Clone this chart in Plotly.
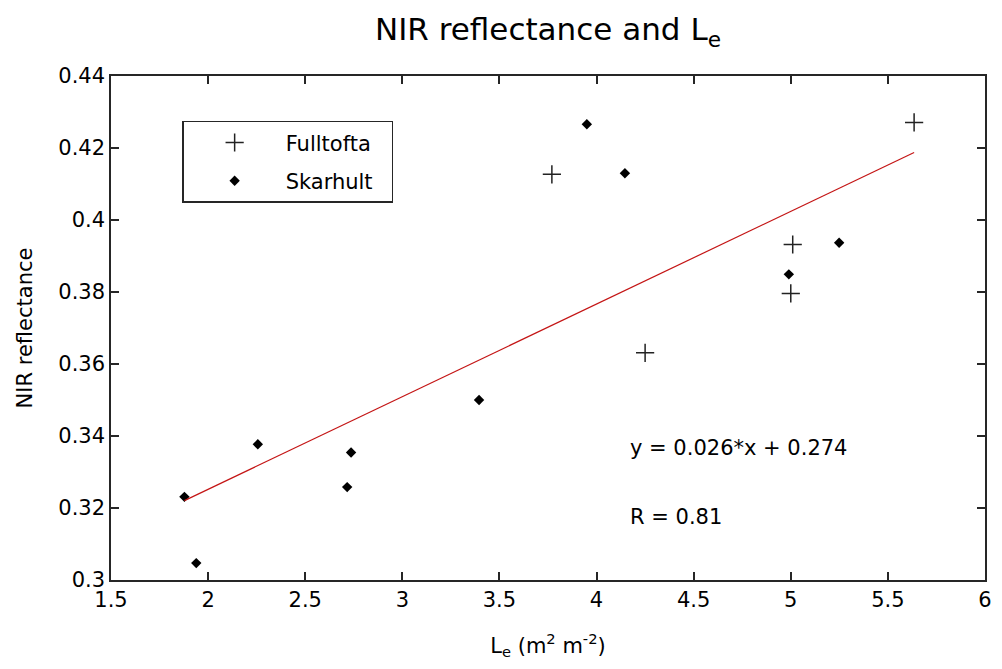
import numpy as np
import plotly.graph_objects as go

# ---- data ----
fulltofta_x = [3.77, 4.25, 5.01, 5.00, 5.635]
fulltofta_y = [0.4127, 0.3631, 0.3932, 0.3796, 0.4271]

skarhult_x = [1.878, 1.939, 2.256, 2.716, 2.736, 3.395, 3.95, 4.146, 4.99, 5.249]
skarhult_y = [0.3231, 0.3047, 0.3377, 0.3258, 0.3354, 0.350, 0.4266, 0.4130, 0.3849, 0.3937]

x_tick_vals = [1.5, 2, 2.5, 3, 3.5, 4, 4.5, 5, 5.5, 6]
x_tick_text = ["1.5", "2", "2.5", "3", "3.5", "4", "4.5", "5", "5.5", "6"]
y_tick_vals = [0.30, 0.32, 0.34, 0.36, 0.38, 0.40, 0.42, 0.44]
y_tick_text = ["0.3", "0.32", "0.34", "0.36", "0.38", "0.4", "0.42", "0.44"]

# linear fit over all points
all_x = np.array(fulltofta_x + skarhult_x)
all_y = np.array(fulltofta_y + skarhult_y)
slope, intercept = np.polyfit(all_x, all_y, 1)
r_value = np.corrcoef(all_x, all_y)[0, 1]
fit_x = np.array([all_x.min(), all_x.max()])
fit_y = slope * fit_x + intercept

FONT = "DejaVu Sans"
TXT = 21
AXC = "#262626"
PAD = "\u00a0\u00a0"

fig = go.Figure()
fig.add_trace(go.Scatter(
    x=fulltofta_x, y=fulltofta_y, mode="markers", name="Fulltofta" + PAD,
    legendgroup="a",
    marker=dict(symbol="cross-thin-open", size=13, color="#222222",
                line=dict(width=1.5, color="#222222")),
))
fig.add_trace(go.Scatter(
    x=skarhult_x, y=skarhult_y, mode="markers", name="Skarhult" + PAD,
    legendgroup="b",
    marker=dict(symbol="diamond", size=8, color="#000000", line=dict(width=0)),
))
fig.add_trace(go.Scatter(
    x=fit_x, y=fit_y, mode="lines", showlegend=False,
    line=dict(color="#c41515", width=1.2),
))

fig.add_annotation(x=4.16, y=0.3367, xref="x", yref="y", xanchor="left", yanchor="middle",
                   text=f"y = {slope:.3f}*x + {intercept:.3f}", showarrow=False,
                   font=dict(family=FONT, size=TXT, color="black"))
fig.add_annotation(x=4.16, y=0.3175, xref="x", yref="y", xanchor="left", yanchor="middle",
                   text=f"R = {r_value:.2f}", showarrow=False,
                   font=dict(family=FONT, size=TXT, color="black"))

axis_common = dict(
    showline=True, linecolor=AXC, linewidth=1.5, mirror="ticks",
    ticks="inside", ticklen=8, tickwidth=1.5, tickcolor=AXC,
    showgrid=False, zeroline=False,
    tickfont=dict(family=FONT, size=TXT, color="black"),
)

fig.update_xaxes(range=[1.5, 6], tickvals=x_tick_vals, ticktext=x_tick_text,
                 title=dict(text="L<sub>e</sub> (m<sup>2</sup> m<sup>-2</sup>)",
                            font=dict(family=FONT, size=21, color="black"), standoff=27),
                 **axis_common)
fig.update_yaxes(range=[0.30, 0.44], tickvals=y_tick_vals, ticktext=y_tick_text,
                 title=dict(text="NIR reflectance",
                            font=dict(family=FONT, size=21, color="black"), standoff=20),
                 **axis_common)

fig.update_layout(
    width=1002, height=669,
    margin=dict(l=111, r=10, t=76, b=89),
    paper_bgcolor="white", plot_bgcolor="white",
    title=dict(text="NIR reflectance and L<sub>e</sub>", x=0.5, xref="paper",
               y=0.972, yref="container", yanchor="top",
               font=dict(family=FONT, size=31, color="black")),
    legend=dict(x=0.0814, y=0.911, xanchor="left", yanchor="top",
                bordercolor=AXC, borderwidth=1.5, bgcolor="white",
                itemwidth=92, tracegroupgap=8,
                font=dict(family=FONT, size=TXT, color="black")),
)

fig.write_html("out.html")
